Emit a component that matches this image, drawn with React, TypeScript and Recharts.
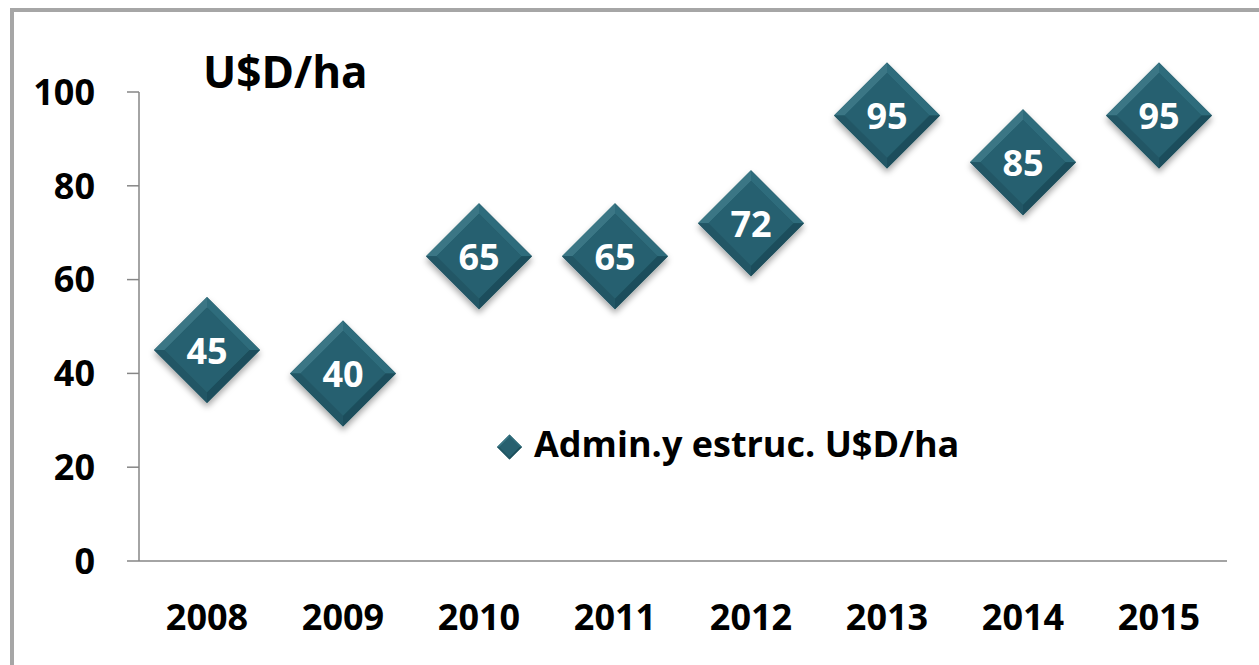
import React from "react";
import { LineChart, Line, XAxis, YAxis, LabelList, Legend } from "recharts";

const years = ["2008", "2009", "2010", "2011", "2012", "2013", "2014", "2015"];
const values = [45, 40, 65, 65, 72, 95, 85, 95];
const yTicks = [0, 20, 40, 60, 80, 100];
const seriesName = "Admin.y estruc. U$D/ha";
const unitTitle = "U$D/ha";

const data = years.map((year, i) => ({ year, x: i + 0.5, value: values[i] }));
const boundaryTicks = years.map((_, i) => i).concat([years.length]);
const centerTicks = years.map((_, i) => i + 0.5);

const FONT = "'Open Sans', 'DejaVu Sans', sans-serif";
const AXIS = "#868686";

const diamondFacets = (cx: number, cy: number, r: number) => {
  const b = r * 0.2;
  const ri = r - b;
  const T = [cx, cy - r], R = [cx + r, cy], B = [cx, cy + r], L = [cx - r, cy];
  const Ti = [cx, cy - ri], Ri = [cx + ri, cy], Bi = [cx, cy + ri], Li = [cx - ri, cy];
  const p = (...pts: number[][]) => pts.map((q) => q.join(",")).join(" ");
  return {
    outer: p(T, R, B, L),
    inner: p(Ti, Ri, Bi, Li),
    tl: p(T, Ti, Li, L),
    tr: p(T, R, Ri, Ti),
    br: p(R, B, Bi, Ri),
    bl: p(B, L, Li, Bi),
  };
};

const Diamond = ({ cx, cy, r, shadow }: { cx: number; cy: number; r: number; shadow?: boolean }) => {
  const f = diamondFacets(cx, cy, r);
  return (
    <g filter={shadow ? "url(#dshadow)" : undefined}>
      <polygon points={f.outer} fill="#215a68" />
      <polygon points={f.tl} fill="#3a7685" />
      <polygon points={f.tr} fill="#2f6c7b" />
      <polygon points={f.br} fill="#1b4e5b" />
      <polygon points={f.bl} fill="#225765" />
      <polygon points={f.inner} fill="#27606f" />
    </g>
  );
};

const renderDot = (props: any) => {
  const { cx, cy, index } = props;
  if (cx == null || cy == null) return <g key={`d${index}`} />;
  return (
    <g key={`d${index}`}>
      <defs>
        <filter id="dshadow" x="-30%" y="-30%" width="160%" height="170%">
          <feDropShadow dx="0" dy="4" stdDeviation="3" floodColor="#000" floodOpacity="0.35" />
        </filter>
      </defs>
      <Diamond cx={cx} cy={cy} r={53} shadow />
    </g>
  );
};

const renderLabel = (props: any) => {
  const { x, y, value, index } = props;
  return (
    <text
      key={`l${index}`}
      x={x}
      y={y + 14}
      textAnchor="middle"
      fill="#ffffff"
      fontSize={36}
      fontWeight={700}
      fontFamily={FONT}
    >
      {value}
    </text>
  );
};

const renderLegend = () => (
  <svg width={470} height={50} style={{ display: "block", overflow: "visible" }}>
    <Diamond cx={12.5} cy={29} r={12.5} />
    <text x={37} y={39} fontSize={36} fontWeight={700} fontFamily={FONT} fill="#000">
      {seriesName}
    </text>
  </svg>
);

export default function App() {
  return (
    <div
      style={{
        position: "fixed",
        left: 0,
        top: 0,
        width: 1259,
        height: 665,
        overflow: "hidden",
        background: "#ffffff",
      }}
    >
      <div
        style={{
          position: "absolute",
          left: 10,
          top: 8,
          width: 1400,
          height: 800,
          border: "4px solid #a6a6a6",
          boxSizing: "border-box",
        }}
      />
      <div style={{ position: "absolute", left: 0, top: 0 }}>
        <LineChart
          width={1259}
          height={665}
          data={data}
          margin={{ top: 92, right: 32, bottom: 0, left: 0 }}
        >
          <XAxis
            xAxisId="grid"
            type="number"
            dataKey="x"
            domain={[0, years.length]}
            ticks={boundaryTicks}
            tick={false}
            height={1}
            tickSize={12}
            axisLine={{ stroke: AXIS, strokeWidth: 1.5 }}
            tickLine={{ stroke: AXIS, strokeWidth: 1.5 }}
          />
          <XAxis
            xAxisId="lab"
            type="number"
            dataKey="x"
            domain={[0, years.length]}
            ticks={centerTicks}
            tickFormatter={(v: number) => years[Math.floor(v)]}
            height={103}
            axisLine={false}
            tickLine={false}
            tickSize={12}
            tickMargin={30}
            interval={0}
            tick={{ fill: "#000", fontSize: 36, fontWeight: 700, fontFamily: FONT }}
          />
          <YAxis
            type="number"
            domain={[0, 100]}
            ticks={yTicks}
            width={139}
            tickSize={12}
            tickMargin={32}
            interval={0}
            axisLine={{ stroke: AXIS, strokeWidth: 1.5 }}
            tickLine={{ stroke: AXIS, strokeWidth: 1.5 }}
            tick={{ fill: "#000", fontSize: 36, fontWeight: 700, fontFamily: FONT }}
          />
          <Legend
            content={renderLegend}
            verticalAlign="middle"
            align="center"
            wrapperStyle={{ position: "absolute", left: 497, top: 418, width: 470, height: 50 }}
          />
          <Line
            xAxisId="grid"
            dataKey="value"
            name={seriesName}
            stroke="none"
            dot={renderDot}
            activeDot={false}
            isAnimationActive={false}
          >
            <LabelList dataKey="value" content={renderLabel} />
          </Line>
        </LineChart>
      </div>
      <svg
        width={1259}
        height={665}
        style={{ position: "absolute", left: 0, top: 0, pointerEvents: "none" }}
      >
        <text x={203} y={88} fontSize={44} fontWeight={700} fontFamily={FONT} fill="#000">
          {unitTitle}
        </text>
      </svg>
    </div>
  );
}
